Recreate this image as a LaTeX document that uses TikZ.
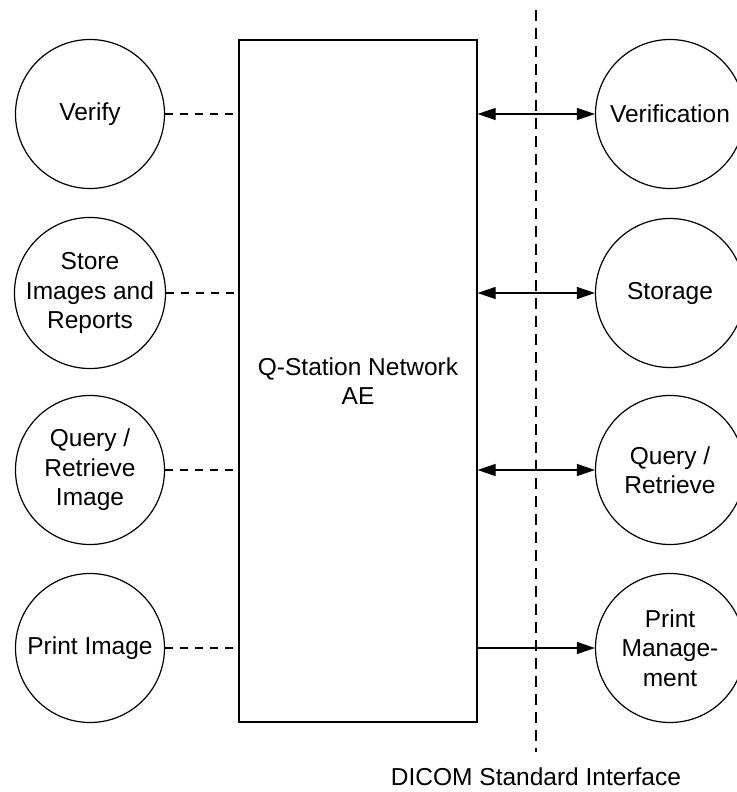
\documentclass[tikz,border=0pt]{standalone}
\usepackage{fontspec}
\setmainfont{Liberation Sans}
\usetikzlibrary{arrows.meta}
\tikzset{
  svc/.style={draw, circle, line width=1.2pt, minimum size=149pt, inner sep=0pt, align=center},
  link/.style={line width=1.2pt, dash pattern=on 8pt off 7pt},
  assoc/.style={line width=1.2pt, {Triangle[length=18pt,width=12pt]}-{Triangle[length=18pt,width=12pt]}},
}
\begin{document}
\begin{tikzpicture}[x=1pt, y=-1pt, font=\fontsize{24.5}{29.5}\selectfont]
        \useasboundingbox (0,0) rectangle (736,792);
        \node[draw, line width=1.2pt, minimum width=238pt, minimum height=682pt, align=center] at (358,381) (ae) {Q-Station Network\\AE};
        \node[svc] at (90,114)  (verify) {Verify};
        \node[svc] at (90,293)  (store) {Store\\Images and\\Reports};
        \node[svc] at (90,470)  (query) {Query /\\Retrieve\\Image};
        \node[svc] at (90,648)  (print) {Print Image};
        \node[svc] at (670,114) (verif) {Verification};
        \node[svc] at (670,293) (storage) {Storage};
        \node[svc] at (670,470) (qr) {Query /\\Retrieve};
        \node[svc] at (670,648) (printmgmt) {Print\\Manage-\\ment};
        \coordinate (ifacetop) at (536,10);
        \coordinate (ifacebot) at (536,752);
        \node at (536,777) (iface) {DICOM Standard Interface};
        \draw[line width=1.2pt, dash pattern=on 11pt off 7pt] (ifacetop) -- (ifacebot);
        \draw[link] (verify) -- (verify -| ae.west);
        \draw[link] (store) -- (store -| ae.west);
        \draw[link] (query) -- (query -| ae.west);
        \draw[link] (print) -- (print -| ae.west);
        \draw[assoc] (ae.east |- verif) -- (verif);
        \draw[assoc] (ae.east |- storage) -- (storage);
        \draw[assoc] (ae.east |- qr) -- (qr);
        \draw[line width=1.2pt, -{Triangle[length=18pt,width=12pt]}] (ae.east |- printmgmt) -- (printmgmt);
      \end{tikzpicture}
\end{document}
